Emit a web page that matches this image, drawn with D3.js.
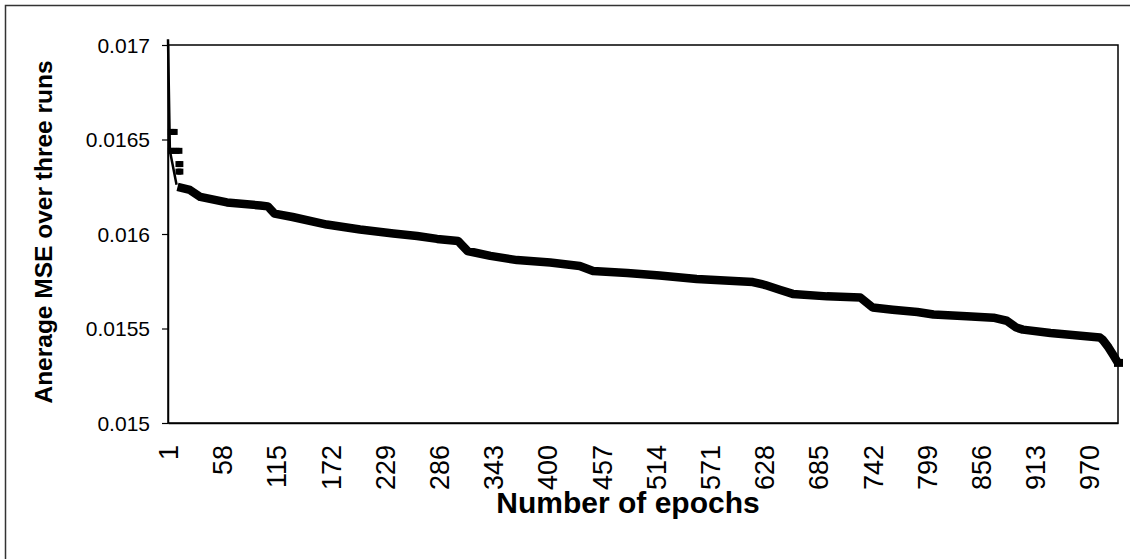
<!DOCTYPE html>
<html>
<head>
<meta charset="utf-8">
<script src="https://cdn.jsdelivr.net/npm/d3@7"></script>
<style>
  html, body { margin: 0; padding: 0; background: #fff; }
  svg { display: block; }
  text { font-family: "Liberation Sans", Arial, sans-serif; fill: #000; }
</style>
</head>
<body>
<script>
// ---- data ----
const xTickLabels = [1, 58, 115, 172, 229, 286, 343, 400, 457, 514, 571, 628, 685, 742, 799, 856, 913, 970];
const yTickLabels = [0.015, 0.0155, 0.016, 0.0165, 0.017];

// first epochs (thin connecting line)
const startEpochs = [1, 3, 10];
const startMse    = [0.01703, 0.01644, 0.01626];

// isolated early markers
const earlyEpochs = [4, 6, 8, 4, 7, 10, 13, 12, 14, 12, 14];
const earlyMse    = [0.01654, 0.01654, 0.01654, 0.01644, 0.01644, 0.01644, 0.01644, 0.01637, 0.01637, 0.01633, 0.01633];

// main run of the curve
const epochs = [11, 24, 35, 63, 98, 106, 113, 132, 168, 203, 238, 263, 284, 306, 316, 340, 368, 403, 434, 448,
                484, 518, 557, 616, 629, 645, 658, 694, 729, 742, 763, 789, 806, 841, 869, 883, 893, 900, 929, 981,
                984, 990, 995, 1000];
const mse = [0.016249, 0.016233, 0.016196, 0.016167, 0.016151, 0.016146, 0.016108, 0.016090, 0.016050, 0.016024,
             0.016003, 0.015989, 0.015974, 0.015963, 0.015910, 0.015884, 0.015862, 0.015849, 0.015831, 0.015804,
             0.015794, 0.015780, 0.015762, 0.015746, 0.015730, 0.015704, 0.015683, 0.015670, 0.015664, 0.015611,
             0.015599, 0.015587, 0.015574, 0.015565, 0.015557, 0.015541, 0.015505, 0.015494, 0.015476, 0.015452,
             0.015440, 0.015400, 0.015360, 0.015318];

const xTitle = "Number of epochs";
const yTitle = "Anerage MSE over three runs";

// ---- layout ----
const W = 1130, H = 559;
const plot = { left: 168, right: 1118, top: 45, bottom: 423 };

const svg = d3.select("body").append("svg").attr("width", W).attr("height", H);

// outer chart frame (right/bottom fall outside the picture)
svg.append("rect").attr("x", 5.5).attr("y", 5.5).attr("width", 1200).attr("height", 700)
  .attr("fill", "#fff").attr("stroke", "#333").attr("stroke-width", 1.5);

const x = d3.scaleLinear().domain([1, 1000]).range([plot.left, plot.right]);
const y = d3.scaleLinear().domain([0.015, 0.017]).range([plot.bottom, plot.top]);

// plot area frame
svg.append("rect").attr("x", plot.left).attr("y", plot.top)
  .attr("width", plot.right - plot.left).attr("height", plot.bottom - plot.top)
  .attr("fill", "none").attr("stroke", "#000").attr("stroke-width", 1.5);

// y axis
const yAxis = svg.append("g").attr("transform", `translate(${plot.left},0)`)
  .call(d3.axisLeft(y).tickValues(yTickLabels).tickSize(6).tickSizeOuter(0)
    .tickFormat(d => String(+d.toFixed(4))));
yAxis.select(".domain").attr("stroke", "#000").attr("stroke-width", 1.5);
yAxis.selectAll(".tick line").attr("stroke", "#000").attr("stroke-width", 1.2);
yAxis.selectAll(".tick text").attr("x", -18).attr("dy", "0.35em")
  .style("font-size", "21px").style("font-family", '"Liberation Sans", Arial, sans-serif');

// x axis
const xAxis = svg.append("g").attr("transform", `translate(0,${plot.bottom})`)
  .call(d3.axisBottom(x).tickValues(xTickLabels).tickSize(0).tickSizeOuter(0).tickFormat(d3.format("d")));
xAxis.select(".domain").attr("stroke", "#000").attr("stroke-width", 1.5);
xAxis.selectAll(".tick text")
  .attr("transform", "rotate(-90)")
  .attr("x", -22).attr("y", 0).attr("dy", "0.35em")
  .attr("text-anchor", "end")
  .style("font-size", "27px").style("font-family", '"Liberation Sans", Arial, sans-serif');

// axis titles
svg.append("text").attr("x", 628).attr("y", 513).attr("text-anchor", "middle")
  .style("font-size", "30px").style("font-weight", "bold").text(xTitle);
svg.append("text").attr("transform", "translate(52,232) rotate(-90)").attr("text-anchor", "middle")
  .style("font-size", "24.5px").style("font-weight", "bold").text(yTitle);

// curve
const line = d3.line().x(d => x(d[0])).y(d => y(d[1]));
const startData = startEpochs.map((e, i) => [e, startMse[i]]);
const mainData = epochs.map((e, i) => [e, mse[i]]);

svg.append("path").datum(startData).attr("d", line)
  .attr("fill", "none").attr("stroke", "#000").attr("stroke-width", 2.5);

svg.append("path").datum(mainData).attr("d", line)
  .attr("fill", "none").attr("stroke", "#000").attr("stroke-width", 8.5)
  .attr("stroke-linejoin", "round").attr("stroke-linecap", "butt");

const ms = 6;
svg.selectAll("rect.early").data(earlyEpochs.map((e, i) => [e, earlyMse[i]])).enter()
  .append("rect").attr("class", "early")
  .attr("x", d => x(d[0]) - ms / 2).attr("y", d => y(d[1]) - ms / 2)
  .attr("width", ms).attr("height", ms).attr("fill", "#000");

// last point marker
svg.append("rect").datum(mainData[mainData.length - 1])
  .attr("x", d => x(d[0]) - 4).attr("y", d => y(d[1]) - 4)
  .attr("width", 9).attr("height", 8).attr("fill", "#000");
</script>
</body>
</html>
